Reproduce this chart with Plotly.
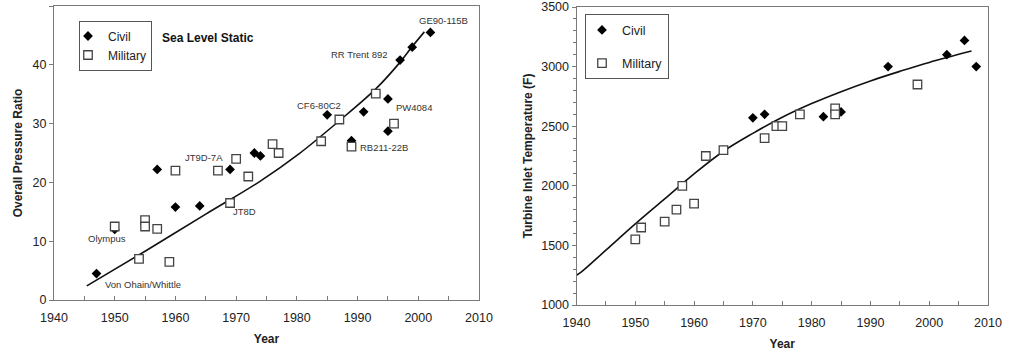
import plotly.graph_objects as go

# ---------------- Left chart: Overall Pressure Ratio ----------------
opr_civil_year = [1947, 1950, 1957, 1960, 1964, 1969, 1973, 1974, 1985, 1989, 1991, 1995, 1995, 1997, 1999, 2002]
opr_civil_val = [4.5, 12.0, 22.2, 15.8, 16.0, 22.2, 25.0, 24.5, 31.5, 27.1, 32.0, 34.2, 28.7, 40.8, 43.0, 45.5]

opr_mil_year = [1950, 1954, 1955, 1955, 1957, 1959, 1960, 1967, 1969, 1970, 1972, 1976, 1977, 1984, 1987, 1989, 1993, 1996]
opr_mil_val = [12.5, 7.0, 13.6, 12.5, 12.1, 6.5, 22.0, 22.0, 16.5, 24.0, 21.0, 26.5, 25.0, 27.0, 30.7, 26.1, 35.1, 30.0]

opr_trend_year = [1945.4, 1955, 1965, 1973.8, 1980.4, 1986.9, 1993, 1996.8, 1999, 2001]
opr_trend_val = [2.4, 8.3, 14.6, 20.1, 24.9, 30.4, 35.9, 40.2, 43.1, 45.6]

opr_labels = ["GE90-115B", "RR Trent 892", "CF6-80C2", "PW4084", "RB211-22B",
              "JT9D-7A", "JT8D", "Olympus", "Von Ohain/Whittle"]
opr_label_year = [2004.2, 1990.3, 1983.6, 1999.3, 1994.4, 1964.7, 1971.3, 1948.7, 1954.7]
opr_label_val = [47.6, 41.7, 33.0, 32.8, 25.9, 24.3, 15.1, 10.5, 2.7]

# ---------------- Right chart: Turbine Inlet Temperature ----------------
tit_civil_year = [1970, 1972, 1982, 1985, 1993, 2003, 2006, 2008]
tit_civil_val = [2570, 2600, 2580, 2620, 3000, 3100, 3220, 3000]

tit_mil_year = [1950, 1951, 1955, 1957, 1958, 1960, 1962, 1965, 1972, 1974, 1975, 1978, 1984, 1984, 1998]
tit_mil_val = [1550, 1650, 1700, 1800, 2000, 1850, 2250, 2300, 2400, 2500, 2500, 2600, 2650, 2600, 2850]

tit_trend_year = [1940, 1940.9, 1945, 1950, 1955, 1960, 1965, 1970, 1975, 1980, 1985, 1990, 1995, 2000, 2007.2]
tit_trend_val = [1250, 1280, 1460, 1680, 1890, 2100, 2290, 2440, 2575, 2690, 2790, 2880, 2960, 3035, 3130]

FONT = "Liberation Sans, Arial, sans-serif"
AX = "#7a7a7a"
TXT = "#222222"

fig = go.Figure()

diamond = dict(symbol="diamond", size=7.5, color="black")
square = dict(symbol="square", size=8.5, color="white", line=dict(color="#444444", width=1.3))

# left chart
fig.add_trace(go.Scatter(x=opr_trend_year, y=opr_trend_val, mode="lines", line=dict(color="#111111", width=1.6, shape="spline"),
                         showlegend=False, xaxis="x", yaxis="y", hoverinfo="skip"))
fig.add_trace(go.Scatter(x=opr_civil_year, y=opr_civil_val, mode="markers", marker=diamond, name="Civil",
                         legend="legend", legendgroup="c1", xaxis="x", yaxis="y"))
fig.add_trace(go.Scatter(x=opr_mil_year, y=opr_mil_val, mode="markers", marker=square, name="Military",
                         legend="legend", legendgroup="m1", xaxis="x", yaxis="y"))

# right chart
fig.add_trace(go.Scatter(x=tit_trend_year, y=tit_trend_val, mode="lines", line=dict(color="#111111", width=1.6, shape="spline"),
                         showlegend=False, xaxis="x2", yaxis="y2", hoverinfo="skip"))
fig.add_trace(go.Scatter(x=tit_civil_year, y=tit_civil_val, mode="markers", marker=diamond, name="Civil",
                         legend="legend2", legendgroup="c2", xaxis="x2", yaxis="y2"))
fig.add_trace(go.Scatter(x=tit_mil_year, y=tit_mil_val, mode="markers", marker=square, name="Military",
                         legend="legend2", legendgroup="m2", xaxis="x2", yaxis="y2"))

ML, MR, MT, MB = 54, 25, 6, 51
W, H = 1013, 356
PW, PH = W - ML - MR, H - MT - MB


def px_x(px):
    return (px - ML) / PW


def px_y(py):
    return (H - MB - py) / PH


tickfont = dict(family=FONT, size=12.5, color=TXT)
titlefont = dict(family=FONT, size=12, color=TXT, weight="bold")

common_x = dict(range=[1940, 2010], dtick=10, tick0=1940, ticks="inside", ticklen=4, tickcolor=AX,
                minor=dict(dtick=5, ticks="inside", ticklen=4, tickcolor=AX),
                showline=True, linecolor=AX, linewidth=1, mirror=True, showgrid=False, zeroline=False,
                tickfont=tickfont, ticklabelstandoff=6, automargin=False)

fig.update_layout(
    width=W, height=H,
    margin=dict(l=ML, r=MR, t=MT, b=MB),
    paper_bgcolor="white", plot_bgcolor="white",
    font=dict(family=FONT, color=TXT),
    xaxis=dict(common_x, domain=[0, px_x(479)], anchor="y",
               title=dict(text="Year", font=titlefont, standoff=10)),
    yaxis=dict(range=[0, 50], dtick=10, ticks="outside", ticklen=4, tickcolor=AX,
               showline=True, linecolor=AX, linewidth=1, mirror=True, showgrid=False, zeroline=False,
               tickfont=tickfont, domain=[px_y(300), 1], anchor="x", automargin=False,
               title=dict(text="Overall Pressure Ratio", font=titlefont, standoff=7)),
    xaxis2=dict(common_x, domain=[px_x(576.5), 1], anchor="y2",
                title=dict(text="Year", font=titlefont, standoff=10)),
    yaxis2=dict(range=[1000, 3500], dtick=500, ticks="outside", ticklen=4, tickcolor=AX,
                minor=dict(dtick=100, ticks="outside", ticklen=3, tickcolor=AX),
                showline=True, linecolor=AX, linewidth=1, mirror=True, showgrid=False, zeroline=False,
                tickfont=tickfont, domain=[px_y(305), px_y(7)], anchor="x2", automargin=False,
                title=dict(text="Turbine Inlet Temperature (F)", font=titlefont, standoff=5)),
    legend=dict(x=px_x(79), y=px_y(20.5), xanchor="left", yanchor="top",
                bordercolor="#555555", borderwidth=1, bgcolor="white",
                font=dict(family=FONT, size=12, color=TXT), indentation=-12,
                traceorder="grouped", tracegroupgap=0, itemwidth=30),
    legend2=dict(x=px_x(585), y=px_y(14.3), xanchor="left", yanchor="top",
                 bordercolor="#555555", borderwidth=1, bgcolor="white",
                 font=dict(family=FONT, size=12.5, color=TXT), indentation=-4,
                 traceorder="grouped", tracegroupgap=14, itemwidth=30),
    showlegend=True,
)

for t, xv, yv in zip(opr_labels, opr_label_year, opr_label_val):
    fig.add_annotation(x=xv, y=yv, xref="x", yref="y", text=t, showarrow=False,
                       font=dict(family=FONT, size=9.5, color="#333333"))

fig.add_annotation(x=1965.4, y=44.6, xref="x", yref="y", text="<b>Sea Level Static</b>", showarrow=False,
                   font=dict(family=FONT, size=12, color="#111111"))

fig.write_html("out.html", config={"displayModeBar": False},
               post_script="document.body.style.margin='0';")
